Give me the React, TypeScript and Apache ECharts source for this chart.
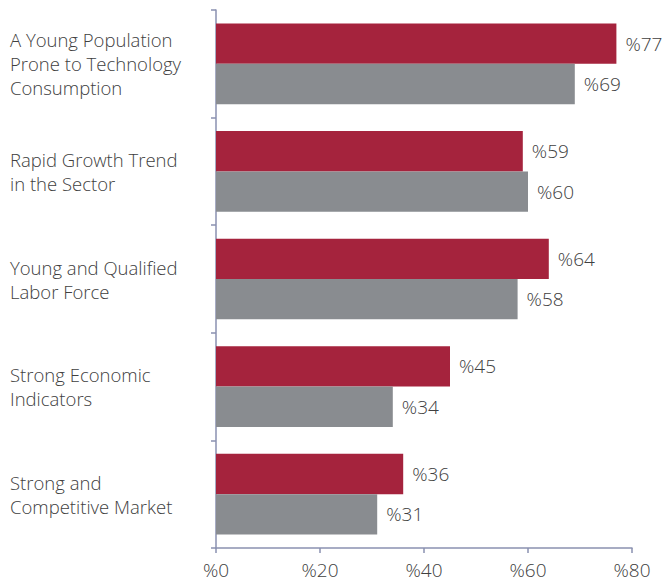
import React, { useEffect, useRef } from "react";
import * as echarts from "echarts";

const categories = [
  "A Young Population\nProne to Technology\nConsumption",
  "Rapid Growth Trend\nin the Sector",
  "Young and Qualified\nLabor Force",
  "Strong Economic\nIndicators",
  "Strong and\nCompetitive Market",
];
const redValues = [77, 59, 64, 45, 36];
const grayValues = [69, 60, 58, 34, 31];
const xTicks = [0, 20, 40, 60, 80];

const FONT = "'Open Sans', 'Noto Sans', sans-serif";
const TEXT = "#404040";
const AXIS = "#8a91b0";

export default function App() {
  const ref = useRef<HTMLDivElement>(null);
  useEffect(() => {
    if (!ref.current) return;
    const chart = echarts.init(ref.current, undefined, { renderer: "svg" });
    const label = {
      show: true,
      position: "right",
      distance: 9,
      formatter: (p: any) => "%" + p.value,
      color: TEXT,
      fontSize: 19,
      fontWeight: 300,
      fontFamily: FONT,
    };
    chart.setOption({
      animation: false,
      grid: { left: 216, right: 37, top: 10, bottom: 37, containLabel: false, outerBoundsMode: "none" },
      xAxis: {
        type: "value",
        min: xTicks[0],
        max: xTicks[xTicks.length - 1],
        interval: 20,
        axisLine: { show: true, lineStyle: { color: AXIS, width: 1.5 } },
        axisTick: { show: true, length: 5, lineStyle: { color: AXIS, width: 1.5 } },
        splitLine: { show: false },
        axisLabel: {
          formatter: (v: number) => "%" + v,
          color: TEXT,
          fontSize: 19,
          fontWeight: 300,
          fontFamily: FONT,
          margin: 12,
        },
      },
      yAxis: {
        type: "category",
        inverse: true,
        data: categories,
        axisLine: { show: true, lineStyle: { color: AXIS, width: 1.5 } },
        axisTick: { show: true, length: 5, lineStyle: { color: AXIS, width: 1.5 } },
        axisLabel: {
          align: "left",
          margin: 206,
          color: TEXT,
          fontSize: 18.5,
          fontWeight: 300,
          lineHeight: 24,
          fontFamily: FONT,
        },
      },
      series: [
        {
          type: "bar",
          data: redValues,
          itemStyle: { color: "#a5233d" },
          barGap: "0%",
          barCategoryGap: "25%",
          label,
        },
        {
          type: "bar",
          data: grayValues,
          itemStyle: { color: "#898c90" },
          barGap: "0%",
          barCategoryGap: "25%",
          label,
        },
      ],
    });
    return () => chart.dispose();
  }, []);
  return <div ref={ref} style={{ width: 669, height: 585, position: "absolute", left: 0, top: 0 }} />;
}
